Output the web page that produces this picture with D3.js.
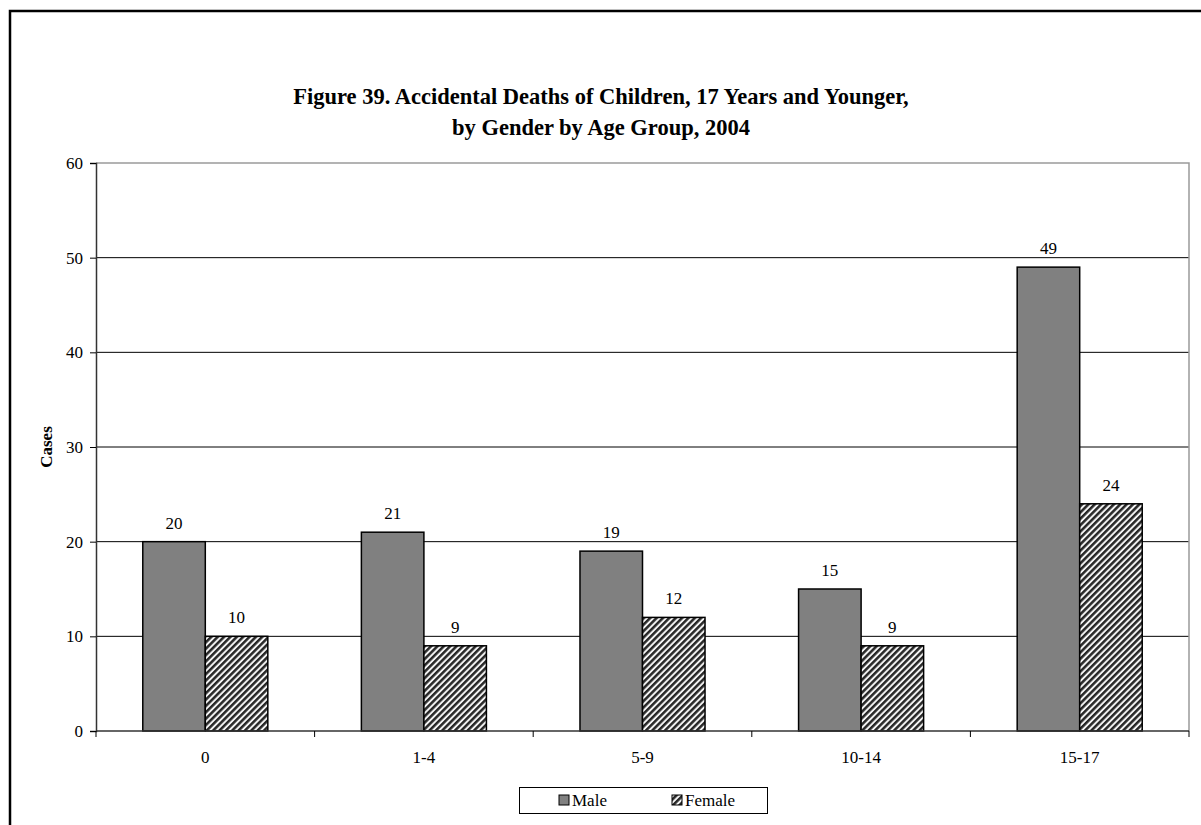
<!DOCTYPE html>
<html>
<head>
<meta charset="utf-8">
<script src="https://cdn.jsdelivr.net/npm/d3@7"></script>
<style>
  html, body { margin: 0; padding: 0; background: #fff; }
  svg { display: block; font-family: "Liberation Serif", "Times New Roman", serif; }
</style>
</head>
<body>
<script>
// Age groups and case counts by gender
const ageGroups = ["0", "1-4", "5-9", "10-14", "15-17"];
const maleCases = [20, 21, 19, 15, 49];
const femaleCases = [10, 9, 12, 9, 24];
const seriesNames = ["Male", "Female"];
const yTicks = [0, 10, 20, 30, 40, 50, 60];

const W = 1201, H = 825;
const plot = { left: 96, right: 1189, top: 163, bottom: 731 };
const FS = 17;

const svg = d3.select("body").append("svg")
  .attr("width", W).attr("height", H);

// Diagonal hatch used for the Female series
const defs = svg.append("defs");
const pat = defs.append("pattern")
  .attr("id", "hatch")
  .attr("patternUnits", "userSpaceOnUse")
  .attr("width", 4.5).attr("height", 4.5)
  .attr("patternTransform", "rotate(45)");
pat.append("rect").attr("width", 4.5).attr("height", 4.5).attr("fill", "#f4f4f4");
pat.append("rect").attr("x", 0).attr("y", 0).attr("width", 2.5).attr("height", 4.5).attr("fill", "#262626");

// Outer frame (runs off the right and bottom edges)
svg.append("path")
  .attr("d", `M10,${H + 5} L10,11 L${W + 5},11`)
  .attr("fill", "none").attr("stroke", "#000").attr("stroke-width", 2.5);

// Title
const title = svg.append("text")
  .attr("text-anchor", "middle")
  .attr("font-weight", "bold").attr("font-size", 22.5).attr("fill", "#000");
title.append("tspan").attr("x", 601).attr("y", 104)
  .text("Figure 39. Accidental Deaths of Children, 17 Years and Younger,");
title.append("tspan").attr("x", 601).attr("y", 135)
  .text("by Gender by Age Group, 2004");

const x0 = d3.scaleBand().domain(ageGroups)
  .range([plot.left, plot.right]).paddingInner(0).paddingOuter(0);
const barW = x0.bandwidth() * 0.286;
const y = d3.scaleLinear().domain([0, 60]).range([plot.bottom, plot.top]);

// Horizontal gridlines
svg.append("g").selectAll("line")
  .data(yTicks.filter(d => d > 0 && d < 60))
  .join("line")
  .attr("x1", plot.left).attr("x2", plot.right)
  .attr("y1", d => y(d)).attr("y2", d => y(d))
  .attr("stroke", "#000").attr("stroke-width", 1);

// Plot area top and right borders
svg.append("path")
  .attr("d", `M${plot.left},${plot.top} L${plot.right},${plot.top} L${plot.right},${plot.bottom}`)
  .attr("fill", "none").attr("stroke", "#9a9a9a").attr("stroke-width", 1.5);

// Bars
const groups = svg.append("g").selectAll("g")
  .data(ageGroups.map((g, i) => ({ g, m: maleCases[i], f: femaleCases[i] })))
  .join("g");

groups.append("rect")
  .attr("x", d => x0(d.g) + x0.bandwidth() / 2 - barW)
  .attr("y", d => y(d.m))
  .attr("width", barW)
  .attr("height", d => y(0) - y(d.m))
  .attr("fill", "#808080").attr("stroke", "#000").attr("stroke-width", 1.5);

groups.append("rect")
  .attr("x", d => x0(d.g) + x0.bandwidth() / 2)
  .attr("y", d => y(d.f))
  .attr("width", barW)
  .attr("height", d => y(0) - y(d.f))
  .attr("fill", "url(#hatch)").attr("stroke", "#000").attr("stroke-width", 1.5);

// Value labels
groups.append("text")
  .attr("x", d => x0(d.g) + x0.bandwidth() / 2 - barW / 2)
  .attr("y", d => y(d.m) - 13)
  .attr("text-anchor", "middle").attr("font-size", FS)
  .text(d => d.m);
groups.append("text")
  .attr("x", d => x0(d.g) + x0.bandwidth() / 2 + barW / 2)
  .attr("y", d => y(d.f) - 13)
  .attr("text-anchor", "middle").attr("font-size", FS)
  .text(d => d.f);

// Y axis
const yAxis = svg.append("g")
  .attr("transform", `translate(${plot.left},0)`)
  .call(d3.axisLeft(y).tickValues(yTicks).tickSize(6).tickPadding(7).tickFormat(d3.format("d")));
yAxis.select(".domain").attr("stroke", "#333").attr("stroke-width", 1.5);
yAxis.selectAll(".tick line").attr("stroke", "#000");
yAxis.selectAll("text").attr("font-size", FS).attr("font-family", "Liberation Serif").attr("fill", "#000");

// X axis: ticks sit at category boundaries
const bounds = ageGroups.map(g => x0(g)).concat([plot.right]);
svg.append("line")
  .attr("x1", plot.left).attr("x2", plot.right)
  .attr("y1", plot.bottom).attr("y2", plot.bottom)
  .attr("stroke", "#333").attr("stroke-width", 1.5);
svg.append("g").selectAll("line").data(bounds).join("line")
  .attr("x1", d => d).attr("x2", d => d)
  .attr("y1", plot.bottom).attr("y2", plot.bottom + 6)
  .attr("stroke", "#000").attr("stroke-width", 1);
svg.append("g").selectAll("text").data(ageGroups).join("text")
  .attr("x", d => x0(d) + x0.bandwidth() / 2)
  .attr("y", plot.bottom + 32)
  .attr("text-anchor", "middle").attr("font-size", FS)
  .text(d => d);

// Y axis title
svg.append("text")
  .attr("transform", `translate(52,${(plot.top + plot.bottom) / 2}) rotate(-90)`)
  .attr("text-anchor", "middle").attr("font-weight", "bold").attr("font-size", FS)
  .text("Cases");

// Legend
const lg = svg.append("g");
lg.append("rect").attr("x", 519.5).attr("y", 787.5).attr("width", 248).attr("height", 26)
  .attr("fill", "#fff").attr("stroke", "#000").attr("stroke-width", 1);
const legendItems = [
  { name: seriesNames[0], fill: "#808080", sx: 559, tx: 572 },
  { name: seriesNames[1], fill: "url(#hatch)", sx: 672, tx: 685 }
];
legendItems.forEach(it => {
  lg.append("rect").attr("x", it.sx).attr("y", 795).attr("width", 10).attr("height", 10)
    .attr("fill", it.fill).attr("stroke", "#000").attr("stroke-width", 1);
  lg.append("text").attr("x", it.tx).attr("y", 806).attr("font-size", FS).text(it.name);
});
</script>
</body>
</html>
